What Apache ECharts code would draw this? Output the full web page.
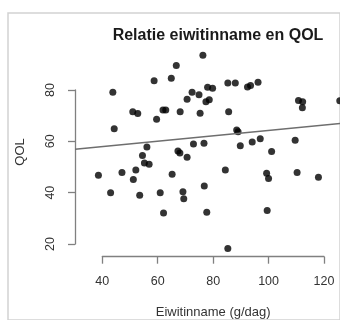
<!DOCTYPE html>
<html>
<head>
<meta charset="utf-8">
<script src="https://cdn.jsdelivr.net/npm/echarts@6/dist/echarts.min.js"></script>
<style>
  html, body { margin: 0; padding: 0; background: #fff; }
  #chart { width: 340px; height: 320px; }
</style>
</head>
<body>
<div id="chart"></div>
<script>
// Data
const eiwit = [43.8, 44.3, 51.0, 52.8, 56.1, 54.5, 58.7, 59.6, 61.9, 62.9, 64.9, 66.7, 68.1, 67.3, 68.0, 70.6,
  70.6, 72.4, 72.9, 74.9, 75.3, 76.7, 76.3, 77.4, 78.6, 78.0, 79.8, 85.3, 88.0, 85.6, 88.5, 89.0, 89.8,
  92.4, 93.5, 96.2, 94.1, 97.0, 101.1, 109.6, 110.8, 112.3, 112.2, 125.7,
  38.6, 43.0, 47.1, 52.1, 51.2, 55.2, 56.9, 53.5, 62.1, 60.9, 65.2, 69.1, 69.4, 76.8, 77.7, 84.4, 85.3,
  99.3, 100.0, 99.5, 110.3, 118.0];
const qol = [79.1, 64.9, 71.5, 70.8, 57.8, 54.5, 83.6, 68.6, 72.2, 72.2, 84.6, 89.5, 71.5, 56.2, 55.5, 53.8,
  76.4, 79.1, 59.0, 78.1, 70.9, 59.3, 93.5, 75.4, 76.2, 81.1, 80.7, 82.7, 82.7, 71.5, 64.4, 63.7, 58.3,
  81.2, 81.8, 83.0, 59.7, 61.0, 56.0, 60.4, 75.9, 75.4, 73.1, 75.8,
  46.8, 40.0, 47.9, 48.8, 45.1, 51.6, 51.1, 39.0, 32.1, 40.0, 47.2, 40.4, 37.6, 42.6, 32.4, 48.8, 18.3,
  47.6, 45.5, 33.1, 47.9, 46.0];
// regression line, spanning the plot region
const fitX = [30.15, 130];
const fitY = [56.9, 67.4];
const xTicks = [40, 60, 80, 100, 120];
const yTicks = [20, 40, 60, 80];
// visible plot region (user coordinates)
const xRange = [30.15, 125.78];
const yRange = [15.06, 96.5];

const title = 'Relatie eiwitinname en QOL';
const xName = 'Eiwitinname (g/dag)';
const yName = 'QOL';

const points = eiwit.map((x, i) => [x, qol[i]]);
const fit = fitX.map((x, i) => [x, fitY[i]]);

const chart = echarts.init(document.getElementById('chart'), null, { renderer: 'canvas' });
const font = 'Liberation Sans, Arial, sans-serif';
chart.setOption({
  backgroundColor: '#ffffff',
  animation: false,
  title: {
    text: title,
    left: 213,
    top: 23,
    textAlign: 'center',
    textStyle: { fontFamily: font, fontSize: 16, fontWeight: 'bold', color: '#1a1a1a' }
  },
  grid: [
    // data (plot) region
    { left: 75, right: 0, top: 47.64, bottom: 63.3 },
    // axes region (ticks from 40..120, 20..80)
    { left: 102.3, right: 16, top: 90, bottom: 76 },
    // light frame
    { left: 8, top: 13, right: -20, bottom: -20, show: true, borderColor: '#d2d2d2', borderWidth: 1.5, backgroundColor: 'transparent' }
  ],
  xAxis: [
    { gridIndex: 0, type: 'value', min: xRange[0], max: xRange[1], show: false },
    {
      gridIndex: 1, type: 'value', min: xTicks[0], max: xTicks[xTicks.length - 1], interval: 20,
      offset: 12.7,
      name: xName, nameLocation: 'middle', nameGap: 49,
      nameTextStyle: { fontFamily: font, fontSize: 13, color: '#333' },
      axisLine: { show: true, lineStyle: { color: '#808080', width: 1.3 } },
      axisTick: { show: true, length: 7, lineStyle: { color: '#808080', width: 1.3 } },
      axisLabel: { fontFamily: font, fontSize: 12.5, color: '#333', margin: 18 },
      splitLine: { show: false }
    },
    { gridIndex: 2, show: false, type: 'value' }
  ],
  yAxis: [
    { gridIndex: 0, type: 'value', min: yRange[0], max: yRange[1], show: false },
    {
      gridIndex: 1, type: 'value', min: yTicks[0], max: yTicks[yTicks.length - 1], interval: 20,
      offset: 27.3,
      name: yName, nameLocation: 'middle', nameGap: 48,
      nameTextStyle: { fontFamily: font, fontSize: 13, color: '#333', padding: [0, 0, 0, 30] },
      axisLine: { show: true, lineStyle: { color: '#808080', width: 1.3 } },
      axisTick: { show: true, length: 7, lineStyle: { color: '#808080', width: 1.3 } },
      axisLabel: { fontFamily: font, fontSize: 12.5, color: '#333', margin: 18, rotate: 90 },
      splitLine: { show: false }
    },
    { gridIndex: 2, show: false, type: 'value' }
  ],
  series: [
    {
      type: 'scatter', xAxisIndex: 0, yAxisIndex: 0, data: points, clip: false,
      symbol: 'circle', symbolSize: 7,
      itemStyle: { color: '#000' }
    },
    {
      type: 'line', xAxisIndex: 0, yAxisIndex: 0, data: fit, showSymbol: false, symbol: 'none',
      lineStyle: { color: '#6e6e6e', width: 1.5 }
    }
  ]
});
</script>
</body>
</html>
